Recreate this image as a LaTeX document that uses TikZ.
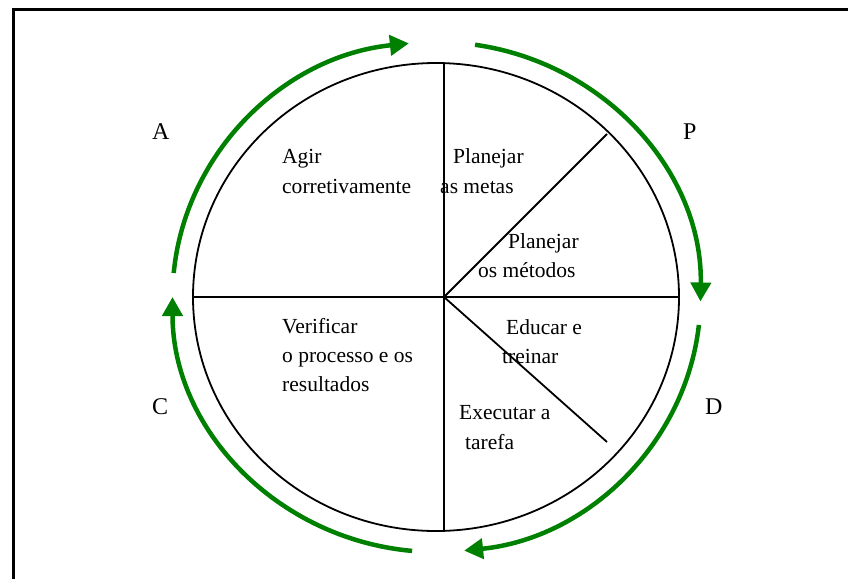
\documentclass[tikz,border=0pt]{standalone}
\usepackage{fontspec}
\setmainfont{Liberation Serif}
\usetikzlibrary{arrows.meta}
\definecolor{arrowgreen}{RGB}{0,128,0}
\begin{document}
\begin{tikzpicture}[x=1pt,y=-1pt,
  lbl/.style={anchor=base west,inner sep=0pt,font=\fontsize{21.5}{30}\selectfont},
  bigl/.style={anchor=base west,inner sep=0pt,font=\fontsize{24}{30}\selectfont},
  cyc/.style={draw=arrowgreen,line width=4.5pt,-{Triangle[length=19pt,width=20pt]}},
  thin/.style={draw=black,line width=1.8pt}]
\useasboundingbox (0,0) rectangle (848,579);
% frame
\draw[line width=3pt] (13,579) -- (13,9) -- (848,9);
% circle
\draw[thin] (436,297) ellipse [x radius=243, y radius=234];
\coordinate (c) at (444,297);
\coordinate (top) at (444,63);
\coordinate (bot) at (444,531);
\coordinate (lft) at (193,297);
\coordinate (rgt) at (679,297);
\coordinate (d1) at (607,134);
\coordinate (d2) at (607,442);
\draw[thin] (top) -- (bot);
\draw[thin] (lft) -- (rgt);
\draw[thin] (c) -- (d1);
\draw[thin] (c) -- (d2);
% green cycle arrows
\coordinate (g) at (436.5,297);
\draw[cyc] ([shift={(174.6:264 and -255)}]g) arc[start angle=174.6,end angle=96,x radius=264,y radius=-255];
\draw[cyc] ([shift={(81.6:264 and -255)}]g) arc[start angle=81.6,end angle=-1,x radius=264,y radius=-255];
\draw[cyc] ([shift={(-6.3:264 and -255)}]g) arc[start angle=-6.3,end angle=-84,x radius=264,y radius=-255];
\draw[cyc] ([shift={(-95.3:264 and -255)}]g) arc[start angle=-95.3,end angle=-180,x radius=264,y radius=-255];
% letters
\node[bigl] (A) at (152,139) {A};
\node[bigl] (P) at (683,139) {P};
\node[bigl] (C) at (152,414) {C};
\node[bigl] (D) at (705,414) {D};
% sector texts
\node[lbl] (t1a) at (282,163) {Agir};
\node[lbl] (t1b) at (282,193) {corretivamente};
\node[lbl] (t2a) at (453,163) {Planejar};
\node[lbl] (t2b) at (440,193) {as metas};
\node[lbl] (t3a) at (508,248) {Planejar};
\node[lbl] (t3b) at (478,277) {os métodos};
\node[lbl] (t4a) at (506,334) {Educar e};
\node[lbl] (t4b) at (502,363) {treinar};
\node[lbl] (t5a) at (459,419) {Executar a};
\node[lbl] (t5b) at (465,449) {tarefa};
\node[lbl] (t6a) at (282,333) {Verificar};
\node[lbl] (t6b) at (282,362) {o processo e os};
\node[lbl] (t6c) at (282,391) {resultados};
\end{tikzpicture}
\end{document}
